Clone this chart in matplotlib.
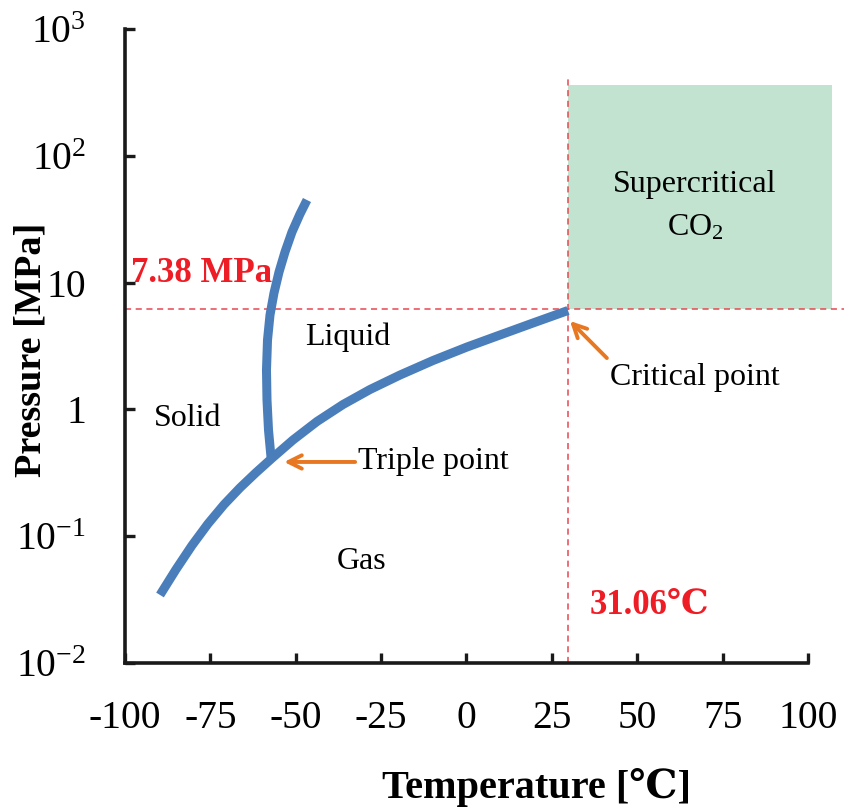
import matplotlib
matplotlib.use('Agg')
import matplotlib.pyplot as plt
from matplotlib.patches import Rectangle

plt.rcParams['font.family'] = ['Liberation Serif', 'DejaVu Serif', 'Noto Sans CJK SC']
plt.rcParams['mathtext.fontset'] = 'custom'
plt.rcParams['mathtext.rm'] = 'Liberation Serif'
plt.rcParams['mathtext.it'] = 'Liberation Serif'

# sublimation + vaporisation boundary (temperature degC, pressure MPa)
gas_t = [-89.75, -85.07, -80.38, -75.70, -71.01, -66.33, -61.64, -56.95,
         -50.81, -43.78, -36.16, -28.26, -19.47, -9.81, 0.15, 9.81, 19.47, 29.72]
gas_p = [0.0344, 0.0547, 0.0846, 0.1253, 0.1775, 0.2408, 0.3174, 0.4123,
         0.5738, 0.8028, 1.093, 1.435, 1.867, 2.430, 3.105, 3.863, 4.801, 6.026]

# melting boundary
melt_t = [-57.25, -57.98, -58.42, -58.57, -58.27, -57.54, -56.37, -54.90,
          -53.15, -51.10, -48.76, -46.71]
melt_p = [0.4213, 0.688, 1.186, 2.045, 3.526, 5.553, 8.279, 12.12,
          17.43, 25.06, 34.75, 44.81]

crit_t = 29.8
crit_p = 6.2
box_t_max = 107
box_p_max = 360

x_ticks = [-100, -75, -50, -25, 0, 25, 50, 75, 100]
y_ticks = [0.01, 0.1, 1, 10, 100, 1000]
y_labels = [r'$\mathregular{10^{-2}}$', r'$\mathregular{10^{-1}}$', '1', '10',
            r'$\mathregular{10^{2}}$', r'$\mathregular{10^{3}}$']

blue = '#4A7EBB'
red = '#EE1C25'
dash_red = '#E8474F'
orange = '#E87722'
green = '#C2E3D0'

fig = plt.figure(figsize=(8.45, 8.09), dpi=100)
ax = fig.add_axes([125 / 845, 1 - 663 / 809, 683 / 845, 634 / 809])
ax.set_yscale('log')
ax.set_xlim(-100, 100)
ax.set_ylim(0.01, 1000)

ax.add_patch(Rectangle((crit_t, crit_p), box_t_max - crit_t, box_p_max - crit_p,
                       facecolor=green, edgecolor='none', clip_on=False, zorder=1))
ax.plot([-100, 111], [crit_p, crit_p], ls=(0, (4, 3)), color=dash_red, lw=1.1,
        clip_on=False, zorder=2)
ax.plot([crit_t, crit_t], [0.01, 435], ls=(0, (4, 3)), color=dash_red, lw=1.1,
        clip_on=False, zorder=2)

ax.plot(melt_t, melt_p, color=blue, lw=6.5, solid_capstyle='butt',
        solid_joinstyle='round', zorder=3)
ax.plot(gas_t, gas_p, color=blue, lw=6.5, solid_capstyle='butt',
        solid_joinstyle='round', zorder=3)

fs = 23
ax.text(-81.8, 0.855, 'Solid', fontsize=fs, ha='center', va='center')
ax.text(-34.7, 3.73, 'Liquid', fontsize=fs, ha='center', va='center')
ax.text(-30.6, 0.0626, 'Gas', fontsize=fs, ha='center', va='center')
ax.text(66.9, 58.9, 'Supercritical', fontsize=fs, ha='center', va='center')
ax.text(66.9, 26.9, r'CO$_2$', fontsize=fs, ha='center', va='center')
ax.text(-98.2, 11.9, '7.38 MPa', fontsize=25, fontweight='bold', color=red,
        ha='left', va='center')
ax.text(36.2, 0.0286, '31.06℃', fontsize=25, fontweight='bold', color=red,
        ha='left', va='center')

arrow = dict(arrowstyle='->', color=orange, lw=2.8, mutation_scale=24,
             shrinkA=0, shrinkB=0)
ax.annotate('Triple point', xy=(-53.4, 0.385), xytext=(-31.8, 0.385),
            fontsize=fs, ha='left', va='center', arrowprops=arrow)
ax.annotate('', xy=(30.3, 4.98), xytext=(41.1, 2.54), arrowprops=arrow)
ax.text(66.9, 1.77, 'Critical point', fontsize=fs, ha='center', va='center')

for s in ['top', 'right']:
    ax.spines[s].set_visible(False)
for s in ['left', 'bottom']:
    ax.spines[s].set_linewidth(2.6)
    ax.spines[s].set_color('#1a1a1a')

ax.set_xticks(x_ticks)
ax.set_xticklabels([str(v) for v in x_ticks])
ax.set_yticks(y_ticks)
ax.set_yticklabels(y_labels)
ax.minorticks_off()
ax.tick_params(axis='both', direction='in', length=7, width=2.4, labelsize=28.5,
               color='#1a1a1a')
ax.tick_params(axis='x', pad=27)
ax.tick_params(axis='y', pad=28)

ax.set_xlabel('Temperature [℃]', fontsize=29, fontweight='bold')
ax.set_ylabel('Pressure [MPa]', fontsize=27.5, fontweight='bold')
ax.xaxis.set_label_coords(0.602, -0.165)
ax.yaxis.set_label_coords(-0.112, 0.494)

fig.savefig('out.png', dpi=100)
